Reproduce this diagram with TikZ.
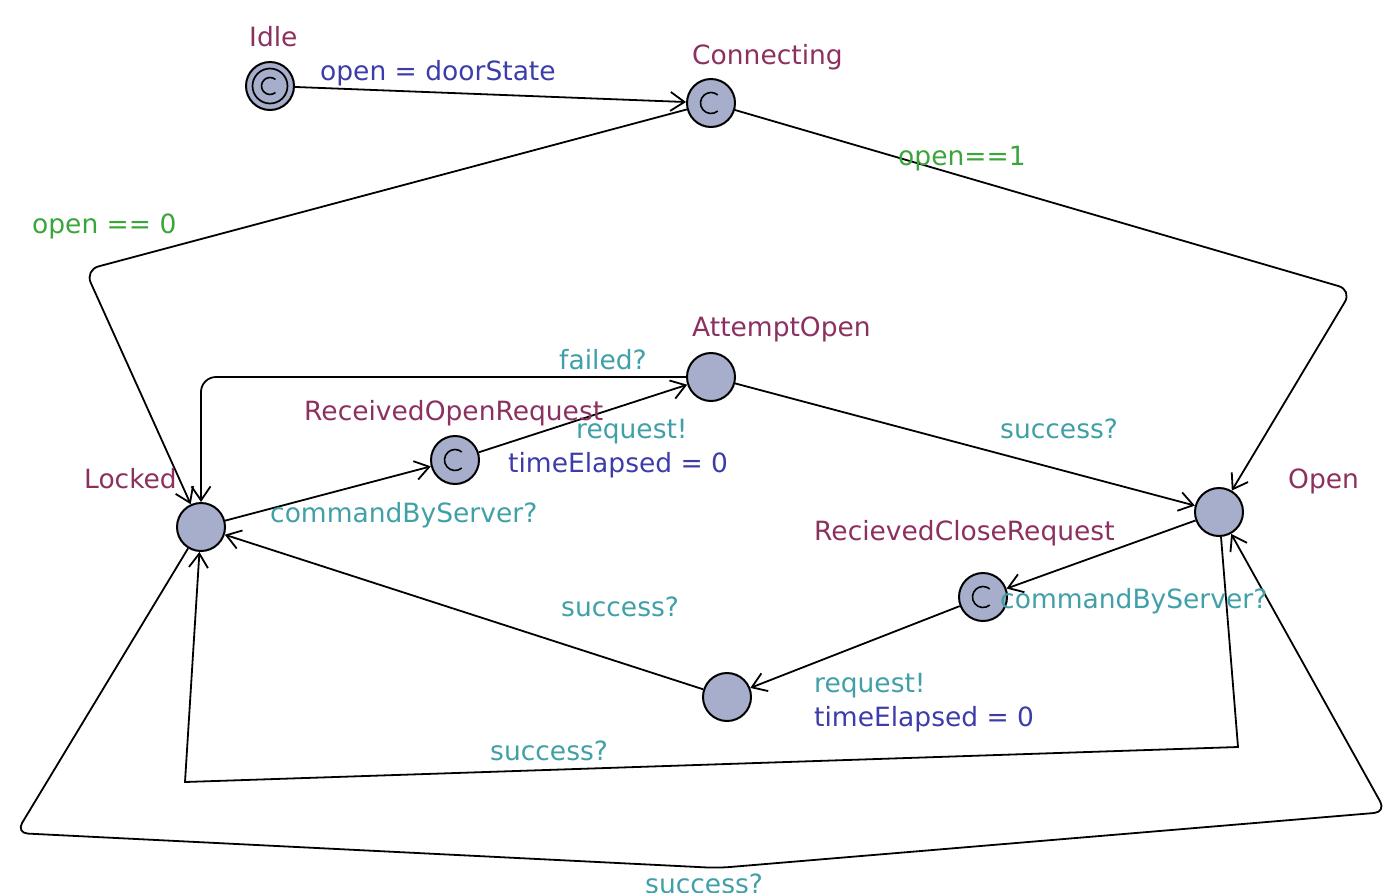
\documentclass[tikz,border=0pt]{standalone}
\usepackage{fontspec}
\setmainfont{DejaVu Sans}
\usetikzlibrary{arrows.meta}
\definecolor{locname}{RGB}{140,48,96}
\definecolor{guardc}{RGB}{58,165,58}
\definecolor{syncc}{RGB}{64,160,168}
\definecolor{assignc}{RGB}{60,60,170}
\definecolor{locfill}{RGB}{166,174,204}
\begin{document}
\begin{tikzpicture}[x=1pt,y=-1pt,
  font=\fontsize{26.5}{30}\selectfont,
  loc/.style={circle,draw=black,fill=locfill,line width=2pt,minimum size=48pt,inner sep=0pt},
  edge/.style={line width=1.8pt,-{Straight Barb[length=14pt,width=19pt]}},
  cmark/.style={line width=1.6pt},
  lname/.style={text=locname,anchor=base west,inner sep=0pt},
  guard/.style={text=guardc,anchor=base west,inner sep=0pt},
  sync/.style={text=syncc,anchor=base west,inner sep=0pt},
  assign/.style={text=assignc,anchor=base west,inner sep=0pt}]
\useasboundingbox (0,0) rectangle (1400,892);

% locations
\node[loc] (idle) at (270,86) {};
\node[loc] (conn) at (711,103) {};
\node[loc] (att) at (711,377) {};
\node[loc] (ror) at (455,460) {};
\node[loc] (locked) at (201,527) {};
\node[loc] (open) at (1219,512) {};
\node[loc] (rcr) at (983,597) {};
\node[loc] (mid) at (727,697) {};

% initial + committed markers
\draw[line width=1.7pt] (idle.center) circle[radius=17.5];
\draw[cmark] ([shift={(50:8.5)}]idle.center) arc[start angle=50,end angle=310,radius=8.5];
\draw[cmark] ([shift={(50:10.5)}]conn.center) arc[start angle=50,end angle=310,radius=10.5];
\draw[cmark] ([shift={(50:10.5)}]ror.center) arc[start angle=50,end angle=310,radius=10.5];
\draw[cmark] ([shift={(50:10.5)}]rcr.center) arc[start angle=50,end angle=310,radius=10.5];

% waypoints
\coordinate (cL) at (85,270);
\coordinate (cR) at (1352,290);
\coordinate (cF) at (201,377);
\coordinate (s1) at (1238,747);
\coordinate (s2) at (185,782);
\coordinate (b1) at (16,833);
\coordinate (b2) at (718,868);
\coordinate (b3) at (1386,812);

% edges
\draw[edge] (idle) -- (conn);
\draw[edge,rounded corners=14pt] (conn) -- (cL) -- (locked);
\draw[edge,rounded corners=14pt] (conn) -- (cR) -- (open);
\draw[edge] (locked) -- (ror);
\draw[edge] (ror) -- (att);
\draw[edge,rounded corners=15pt] (att) -- (cF) -- (locked);
\draw[edge] (att) -- (open);
\draw[edge] (open) -- (rcr);
\draw[edge] (rcr) -- (mid);
\draw[edge] (mid) -- (locked);
\draw[edge] (open) -- (s1) -- (s2) -- (locked);
\draw[edge,rounded corners=12pt] (locked) -- (b1) -- (b2) -- (b3) -- (open);

% location names
\node[lname] (nIdle) at (249,46) {Idle};
\node[lname] (nConn) at (692,64) {Connecting};
\node[lname] (nAtt) at (692,336) {AttemptOpen};
\node[lname] (nRor) at (304,420) {ReceivedOpenRequest};
\node[lname] (nLocked) at (84,488) {Locked};
\node[lname] (nOpen) at (1288,488) {Open};
\node[lname] (nRcr) at (814,540) {RecievedCloseRequest};

% edge labels
\node[assign] (l1) at (320,80) {open = doorState};
\node[guard] (l2) at (32,233) {open == 0};
\node[guard] (l3) at (898,165) {open==1};
\node[sync] (l4) at (559,369) {failed?};
\node[sync] (l5) at (576,438) {request!};
\node[assign] (l6) at (508,472) {timeElapsed = 0};
\node[sync] (l7) at (1000,438) {success?};
\node[sync] (l8) at (270,522) {commandByServer?};
\node[sync] (l9) at (1000,608) {commandByServer?};
\node[sync] (l10) at (561,616) {success?};
\node[sync] (l11) at (814,692) {request!};
\node[assign] (l12) at (814,726) {timeElapsed = 0};
\node[sync] (l13) at (490,760) {success?};
\node[sync] (l14) at (645,893) {success?};
\end{tikzpicture}
\end{document}
